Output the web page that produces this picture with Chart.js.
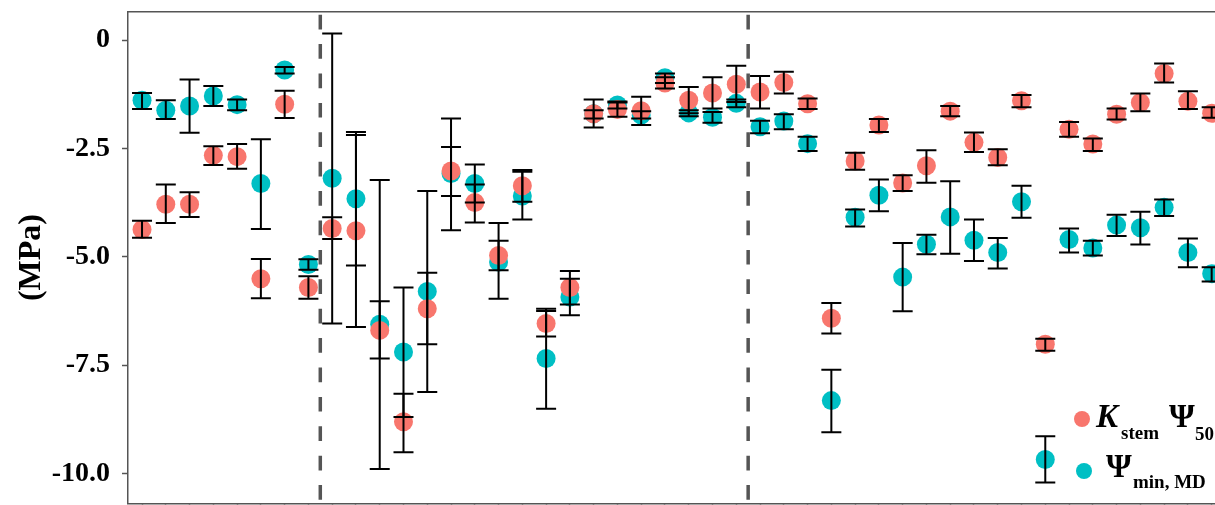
<!DOCTYPE html>
<html>
<head>
<meta charset="utf-8">
<script src="https://cdn.jsdelivr.net/npm/chart.js@4.4.0/dist/chart.umd.min.js"></script>
<style>
html,body{margin:0;padding:0;background:#fff;overflow:hidden}
#wrap{position:relative;width:1215px;height:505px}
</style>
</head>
<body>
<div id="wrap"><canvas id="c" width="1215" height="505"></canvas></div>
<script>
// ---- data ----
const categories = ['S01','S02','S03','S04','S05','S06','S07','S08','S09','S10',
  'S11','S12','S13','S14','S15','S16','S17','S18','S19','S20',
  'S21','S22','S23','S24','S25','S26','S27','S28','S29','S30',
  'S31','S32','S33','S34','S35','S36','S37','S38','S39','S40',
  'S41','S42','S43','S44','S45','S46'];

// K_stem Psi50 (MPa) and its error bar ends
const kstemPsi50 = [-4.37,-3.79,-3.79,-2.66,-2.69,-5.51,-1.48,-5.71,-4.35,-4.40,
  -6.70,-8.81,-6.20,-3.02,-3.75,-4.97,-3.36,-6.54,-5.71,-1.70,
  -1.60,-1.63,-0.99,-1.39,-1.22,-1.02,-1.20,-0.98,-1.47,-6.42,
  -2.79,-1.96,-3.30,-2.90,-1.64,-2.36,-2.71,-1.40,-7.02,-2.06,
  -2.40,-1.71,-1.44,-0.77,-1.41,-1.69];
const kstemUpper = [-4.17,-3.33,-3.51,-2.45,-2.40,-5.05,-1.17,-5.45,-4.09,-2.19,
  -6.03,-8.16,-5.37,-2.47,-3.33,-4.63,-3.00,-6.25,-5.33,-1.37,
  -1.44,-1.31,-0.86,-1.08,-0.86,-0.59,-0.83,-0.73,-1.35,-6.07,
  -2.60,-1.82,-3.12,-2.54,-1.52,-2.13,-2.52,-1.27,-6.89,-1.89,
  -2.27,-1.58,-1.23,-0.54,-1.18,-1.55];
const kstemLower = [-4.56,-4.22,-4.08,-2.88,-2.97,-5.96,-1.80,-5.97,-4.59,-6.62,
  -7.35,-9.51,-7.02,-3.60,-4.21,-5.31,-3.73,-6.84,-6.10,-2.02,
  -1.77,-1.96,-1.12,-1.69,-1.58,-1.43,-1.58,-1.23,-1.59,-6.77,
  -2.99,-2.12,-3.48,-3.29,-1.76,-2.58,-2.89,-1.55,-7.17,-2.23,
  -2.56,-1.83,-1.64,-0.98,-1.59,-1.79];

// Psi min, MD (MPa) and its error bar ends
const psiMinMD = [-1.39,-1.62,-1.52,-1.29,-1.49,-3.31,-0.69,-5.18,-3.19,-3.66,
  -6.56,-7.20,-5.80,-3.08,-3.31,-5.12,-3.60,-7.35,-5.93,-1.70,
  -1.50,-1.73,-0.87,-1.68,-1.78,-1.46,-2.00,-1.87,-2.39,-8.32,
  -4.09,-3.58,-5.47,-4.71,-4.08,-4.62,-4.90,-3.73,-9.68,-4.60,
  -4.80,-4.27,-4.33,-3.86,-4.90,-5.39];
const psiMinUpper = [-1.22,-1.39,-0.91,-1.06,-1.37,-2.29,-0.62,-5.06,0.15,-2.12,
  -3.23,-5.71,-3.48,-1.81,-2.87,-4.22,-3.04,-6.20,-5.51,-1.62,
  -1.42,-1.64,-0.77,-1.62,-1.66,-1.37,-1.86,-1.71,-2.23,-7.61,
  -3.91,-3.22,-4.68,-4.49,-3.26,-4.14,-4.57,-3.36,-9.14,-4.35,
  -4.63,-4.03,-3.96,-3.68,-4.58,-5.24];
const psiMinLower = [-1.59,-1.82,-2.14,-1.52,-1.62,-4.36,-0.77,-5.30,-6.54,-5.20,
  -9.90,-8.70,-8.12,-4.39,-3.75,-5.97,-4.14,-8.51,-6.35,-1.81,
  -1.58,-1.81,-0.99,-1.76,-1.91,-1.55,-2.15,-2.06,-2.56,-9.05,
  -4.30,-3.95,-6.26,-4.94,-4.93,-5.10,-5.27,-4.10,-10.21,-4.90,
  -4.97,-4.52,-4.72,-4.06,-5.24,-5.57];

const yTickValues = [-10, -7.5, -5, -2.5, 0];
const yTickLabels = ['-10.0', '-7.5', '-5.0', '-2.5', '0'];
const groupDividers = [7.5, 25.5];
const yAxisTitle = '(MPa)';

// ---- styling ----
const RED = '#F8766D', TEAL = '#00BFC4', FRAME = '#555555';
Chart.defaults.font.family = "'Liberation Serif', 'DejaVu Serif', serif";

const errorBarPlugin = {
  id: 'errorBars',
  afterDatasetsDraw(chart) {
    const {ctx, scales: {x, y}} = chart;
    const sets = [[psiMinUpper, psiMinLower], [kstemUpper, kstemLower]];
    ctx.save();
    ctx.strokeStyle = '#000';
    ctx.lineWidth = 2;
    ctx.lineCap = 'butt';
    sets.forEach(([up, lo]) => {
      categories.forEach((c, i) => {
        const px = x.getPixelForValue(i);
        const y1 = y.getPixelForValue(up[i]);
        const y2 = y.getPixelForValue(lo[i]);
        ctx.beginPath();
        ctx.moveTo(px, y1); ctx.lineTo(px, y2);
        ctx.moveTo(px - 10, y1); ctx.lineTo(px + 10, y1);
        ctx.moveTo(px - 10, y2); ctx.lineTo(px + 10, y2);
        ctx.stroke();
      });
    });
    ctx.restore();
  }
};

const framePlugin = {
  id: 'frame',
  beforeDatasetsDraw(chart) {
    const {ctx, chartArea: a, scales: {x}} = chart;
    ctx.save();
    ctx.strokeStyle = FRAME;
    ctx.lineWidth = 1.5;
    ctx.beginPath();
    ctx.moveTo(a.left, a.top); ctx.lineTo(a.right, a.top);
    ctx.stroke();
    ctx.strokeStyle = '#555555';
    ctx.lineWidth = 3.5;
    ctx.setLineDash([14.7, 14.7]);
    groupDividers.forEach(v => {
      const px = x.getPixelForValue(v);
      ctx.beginPath();
      ctx.moveTo(px, a.top + 3); ctx.lineTo(px, a.bottom);
      ctx.stroke();
    });
    ctx.restore();
  }
};

const legendPlugin = {
  id: 'richLegend',
  afterDraw(chart) {
    const {ctx} = chart;
    const fam = "'Liberation Serif', serif";
    ctx.save();
    ctx.fillStyle = RED;
    ctx.beginPath(); ctx.arc(1082, 419, 8, 0, Math.PI * 2); ctx.fill();
    ctx.fillStyle = TEAL;
    ctx.beginPath(); ctx.arc(1084, 471, 8, 0, Math.PI * 2); ctx.fill();
    ctx.fillStyle = '#000';
    ctx.textBaseline = 'alphabetic';
    ctx.textAlign = 'left';
    ctx.font = 'italic bold 33px ' + fam; ctx.fillText('K', 1096, 427);
    ctx.font = 'bold 19px ' + fam; ctx.fillText('stem', 1121, 439);
    ctx.font = 'bold 33px ' + fam; ctx.fillText('\u03A8', 1169, 427);
    ctx.font = 'bold 19px ' + fam; ctx.fillText('50', 1195, 440);
    ctx.font = 'bold 33px ' + fam; ctx.fillText('\u03A8', 1106, 477);
    ctx.font = 'bold 19px ' + fam; ctx.fillText('min, MD', 1133, 488);
    ctx.restore();
  }
};

new Chart(document.getElementById('c'), {
  type: 'scatter',
  data: {
    datasets: [
      {
        label: 'K stem \u03A8 50',
        data: categories.map((c, i) => ({x: i, y: kstemPsi50[i]})),
        backgroundColor: RED, borderWidth: 0, pointRadius: 9.5, pointHoverRadius: 9.5
      },
      {
        label: '\u03A8 min, MD',
        data: categories.map((c, i) => ({x: i, y: psiMinMD[i]})),
        backgroundColor: TEAL, borderWidth: 0, pointRadius: 9.5, pointHoverRadius: 9.5
      }
    ]
  },
  options: {
    responsive: false,
    animation: false,
    devicePixelRatio: 1,
    layout: {autoPadding: false, padding: {top: 11.7, left: 0, right: 0, bottom: 0}},
    plugins: {legend: {display: false}, tooltip: {enabled: false}},
    events: [],
    scales: {
      x: {
        type: 'linear', position: 'bottom',
        min: -0.59, max: 45.14,
        afterBuildTicks: s => { s.ticks = categories.map((c, i) => ({value: i})); },
        afterFit: s => { s.height = 1.7; s.paddingLeft = 0; s.paddingRight = 0; },
        ticks: {display: false},
        grid: {drawOnChartArea: false, drawTicks: true, tickLength: 6, tickColor: FRAME, tickWidth: 1.5},
        border: {display: true, color: FRAME, width: 1.5}
      },
      y: {
        type: 'linear', position: 'left',
        min: -10.69, max: 0.655,
        afterBuildTicks: s => { s.ticks = yTickValues.map(v => ({value: v})); },
        afterFit: s => { s.width = 128; s.paddingTop = 0; s.paddingBottom = 0; },
        ticks: {
          padding: 12, color: '#000',
          font: {size: 28, weight: 'bold'},
          callback: (v, i) => yTickLabels[i]
        },
        grid: {drawOnChartArea: false, drawTicks: true, tickLength: 6, tickColor: FRAME, tickWidth: 1.5},
        border: {display: true, color: FRAME, width: 1.5},
        title: {
          display: true, text: yAxisTitle, color: '#000',
          font: {size: 32, weight: 'bold', lineHeight: 1},
          padding: {top: 16, bottom: 0}
        }
      }
    }
  },
  plugins: [framePlugin, errorBarPlugin, legendPlugin]
});
</script>
</body>
</html>
